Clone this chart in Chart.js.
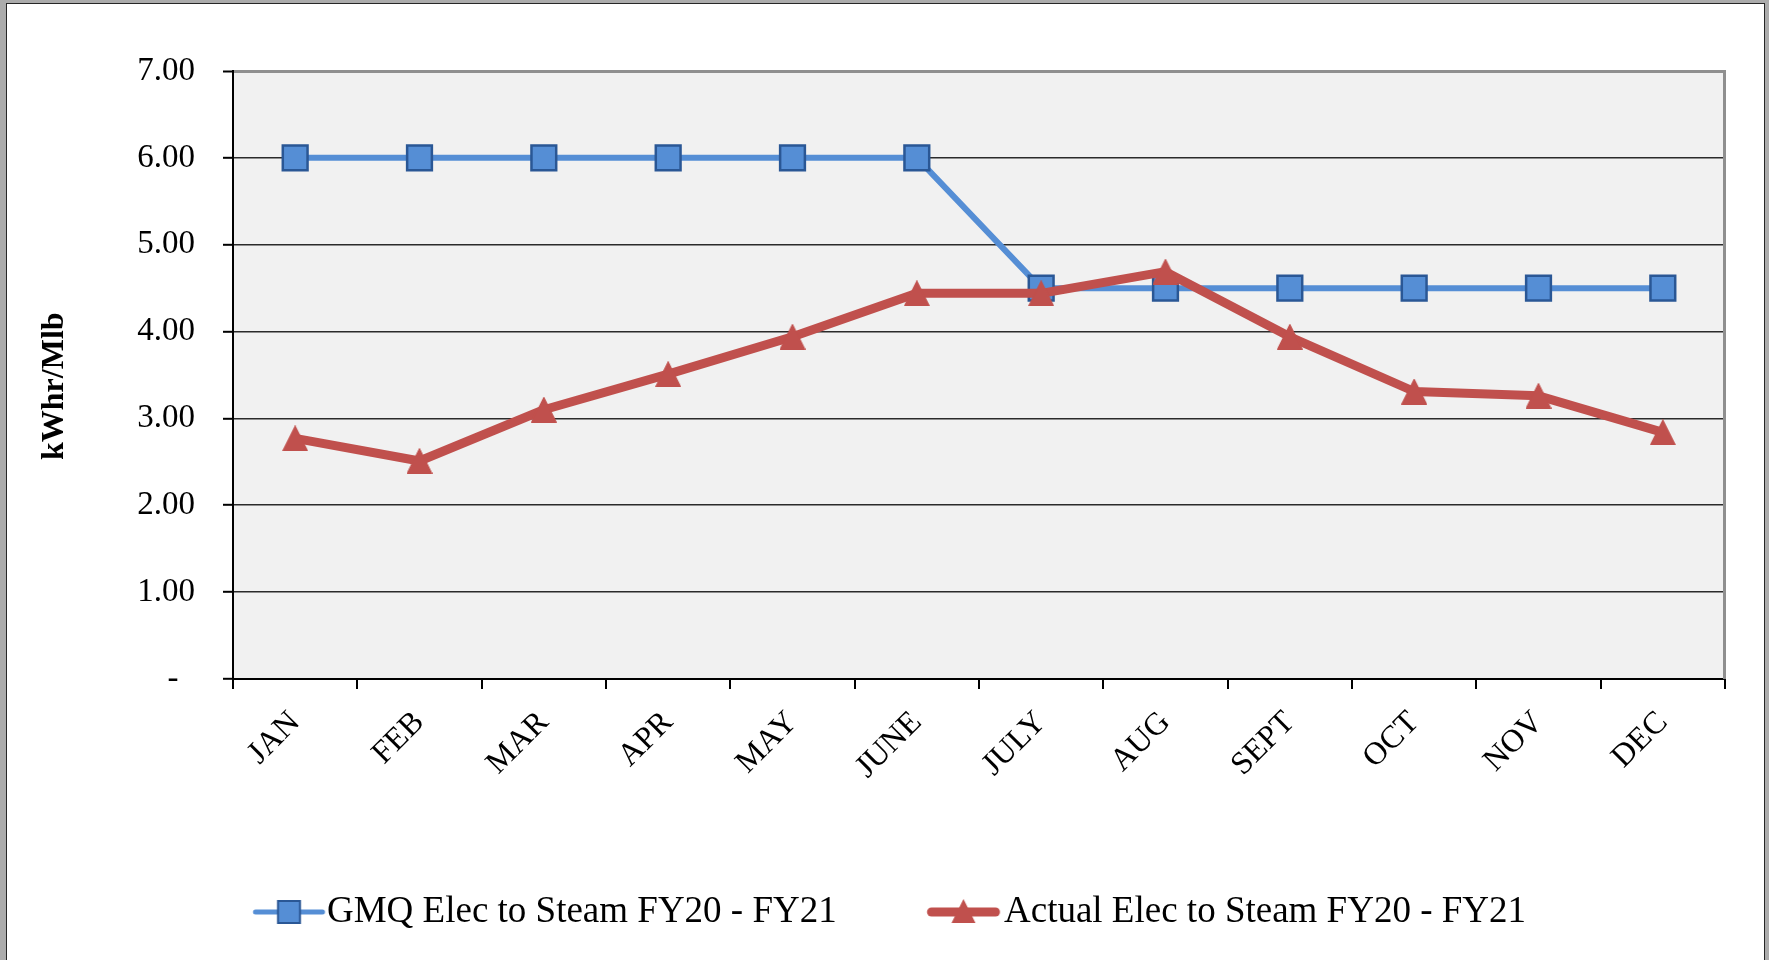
<!DOCTYPE html>
<html><head><meta charset="utf-8">
<script src="https://cdn.jsdelivr.net/npm/chart.js@4/dist/chart.umd.min.js"></script>
<style>
html,body{margin:0;padding:0;width:1769px;height:960px;overflow:hidden;background:#ababab;}
#frame{position:absolute;left:6px;top:3px;width:1757px;height:1000px;border:1px solid #262626;background:#fff;}
#wrap{position:absolute;left:0;top:0;width:1769px;height:960px;}
</style></head><body>
<div id="frame"></div>
<div id="wrap"><canvas id="c" width="1769" height="960"></canvas></div>
<script>
const months = ['JAN','FEB','MAR','APR','MAY','JUNE','JULY','AUG','SEPT','OCT','NOV','DEC'];
const gmqValues = [6, 6, 6, 6, 6, 6, 4.5, 4.5, 4.5, 4.5, 4.5, 4.5];
const actualValues = [2.77, 2.51, 3.10, 3.51, 3.94, 4.44, 4.44, 4.69, 3.94, 3.31, 3.26, 2.84];
const yTickLabels = ['-', '1.00', '2.00', '3.00', '4.00', '5.00', '6.00', '7.00'];
const seriesNames = ['GMQ Elec to Steam FY20 - FY21', 'Actual Elec to Steam FY20 - FY21'];
const yTitle = 'kWhr/Mlb';

const FONT = "'Liberation Serif', 'Times New Roman', serif";
const BLUE = '#558ED5', BLUE_DARK = '#2A5795', RED = '#C0504D';

// ---- layout targets (page pixels) ----
const PAD = {left: 11, top: 71, right: 44, bottom: 19.5};
const PLOT_BOTTOM = 679;
const LEG_FONT = 37, LEG_H = LEG_FONT / 2;
const TEXT1_X = 327, TEXT2_X = 1004;
const mctx = document.createElement('canvas').getContext('2d');
mctx.font = LEG_FONT + 'px ' + FONT;
const w1 = mctx.measureText(seriesNames[0]).width;
const w2 = mctx.measureText(seriesNames[1]).width;
const LEG_PADDING = PAD.left + (1769 - PAD.right) - w1 - w2 - 2 * TEXT1_X;
const BOXW = (TEXT2_X - TEXT1_X - w1 - LEG_H) - LEG_PADDING;
const LEGEND_HEIGHT = LEG_FONT + LEG_PADDING + 10;
const XAXIS_HEIGHT = (960 - PAD.bottom - LEGEND_HEIGHT) - PLOT_BOTTOM;

function legendSymbol(kind) {
  const W = 2 * Math.ceil(BOXW / 2 + LEG_H + 2), H = 44;
  const c = document.createElement('canvas');
  c.width = W; c.height = H;
  const g = c.getContext('2d');
  const cy = H / 2;
  g.lineCap = 'round';
  if (kind === 'square') {
    const end = W / 2 + BOXW / 2 + LEG_H - 2, s = 72, x0 = end - s, cx = x0 + s / 2;
    g.strokeStyle = BLUE; g.lineWidth = 5;
    g.beginPath(); g.moveTo(x0 + 2.5, cy); g.lineTo(end - 2.5, cy); g.stroke();
    g.fillStyle = BLUE; g.strokeStyle = BLUE_DARK; g.lineWidth = 2;
    g.fillRect(cx - 11, cy - 11, 22, 22);
    g.strokeRect(cx - 11, cy - 11, 22, 22);
  } else {
    const end = W / 2 + BOXW / 2 + LEG_H - 4, s = 73, x0 = end - s, cx = x0 + s / 2;
    g.strokeStyle = RED; g.lineWidth = 9;
    g.beginPath(); g.moveTo(x0 + 4.5, cy); g.lineTo(end - 4.5, cy); g.stroke();
    g.fillStyle = RED;
    g.beginPath(); g.moveTo(cx, cy - 13); g.lineTo(cx + 12, cy + 11); g.lineTo(cx - 12, cy + 11); g.closePath(); g.fill();
  }
  return c;
}
const legendImages = [legendSymbol('square'), legendSymbol('triangle')];

function triangleMarker() {
  const c = document.createElement('canvas');
  c.width = 26; c.height = 26;
  const g = c.getContext('2d');
  g.fillStyle = RED; g.strokeStyle = RED; g.lineWidth = 1;
  g.beginPath(); g.moveTo(13, 0.5); g.lineTo(25.5, 25.5); g.lineTo(0.5, 25.5); g.closePath();
  g.fill(); g.stroke();
  return c;
}
const triImg = triangleMarker();

const plotFrame = {
  id: 'plotFrame',
  beforeDraw(chart) {
    const {ctx, chartArea: a} = chart;
    ctx.save();
    ctx.fillStyle = '#f1f1f1';
    ctx.fillRect(a.left, a.top, a.right - a.left, a.bottom - a.top);
    ctx.restore();
  },
  beforeDatasetsDraw(chart) {
    const {ctx, chartArea: a} = chart;
    ctx.save();
    ctx.strokeStyle = '#8f8f8f';
    ctx.lineWidth = 3;
    ctx.beginPath();
    ctx.moveTo(a.right - 0.5, a.top - 1);
    ctx.lineTo(a.right - 0.5, a.bottom);
    ctx.stroke();
    ctx.restore();
  }
};

new Chart(document.getElementById('c'), {
  type: 'line',
  data: {
    labels: months,
    datasets: [
      {
        label: seriesNames[0], data: gmqValues, order: 1,
        borderColor: BLUE, borderWidth: 6, borderJoinStyle: 'round', borderCapStyle: 'round',
        pointStyle: 'rect', pointRadius: 17.5, pointHoverRadius: 17.5,
        pointBackgroundColor: BLUE, pointBorderColor: BLUE_DARK, pointBorderWidth: 2.5, pointHoverBorderWidth: 2.5,
        tension: 0, fill: false
      },
      {
        label: seriesNames[1], data: actualValues, order: 0,
        borderColor: RED, borderWidth: 9, borderJoinStyle: 'round', borderCapStyle: 'round',
        pointStyle: triImg, pointRadius: 13, pointHoverRadius: 13,
        pointBackgroundColor: RED, pointBorderColor: RED, pointBorderWidth: 1,
        tension: 0, fill: false
      }
    ]
  },
  options: {
    responsive: false,
    animation: false,
    events: [],
    layout: {padding: PAD},
    plugins: {
      tooltip: {enabled: false},
      legend: {
        position: 'bottom',
        align: 'center',
        labels: {
          usePointStyle: true,
          pointStyleWidth: BOXW,
          boxHeight: LEG_FONT,
          padding: LEG_PADDING,
          color: '#000',
          font: {family: FONT, size: LEG_FONT},
          generateLabels(chart) {
            return chart.data.datasets.map((ds, i) => ({
              text: ds.label,
              pointStyle: legendImages[i],
              fillStyle: ds.borderColor,
              strokeStyle: ds.borderColor,
              fontColor: '#000',
              lineWidth: 0,
              hidden: !chart.isDatasetVisible(i),
              datasetIndex: i
            }));
          }
        }
      }
    },
    scales: {
      x: {
        offset: true,
        grid: {display: true, drawOnChartArea: false, offset: true, color: '#000', lineWidth: 2, tickLength: 10},
        border: {display: true, color: '#000', width: 2},
        ticks: {autoSkip: false, minRotation: 45, maxRotation: 45, padding: 15, color: '#000', font: {family: FONT, size: 32}},
        afterFit(scale) { scale.height = XAXIS_HEIGHT; }
      },
      y: {
        min: 0, max: 7,
        ticks: {
          stepSize: 1, padding: 28, color: '#000', font: {family: FONT, size: 33},
          callback(value, index) { const t = yTickLabels[index]; return t === '-' ? t + '\u2002' : t; }
        },
        grid: {
          color: (c) => c.tick && c.tick.value === 7 ? '#8f8f8f' : '#2b2b2b',
          lineWidth: (c) => c.tick && c.tick.value === 7 ? 3 : 1.6,
          tickColor: '#000', tickWidth: 2, tickLength: 10
        },
        border: {display: true, color: '#000', width: 2},
        title: {display: true, text: yTitle + '\u2002\u2009', color: '#000', font: {family: FONT, size: 32, weight: 'bold'}, padding: {top: 25, bottom: 0}},
        afterFit(scale) { scale.width = 233 - PAD.left; }
      }
    }
  },
  plugins: [plotFrame]
});
</script>
</body></html>
